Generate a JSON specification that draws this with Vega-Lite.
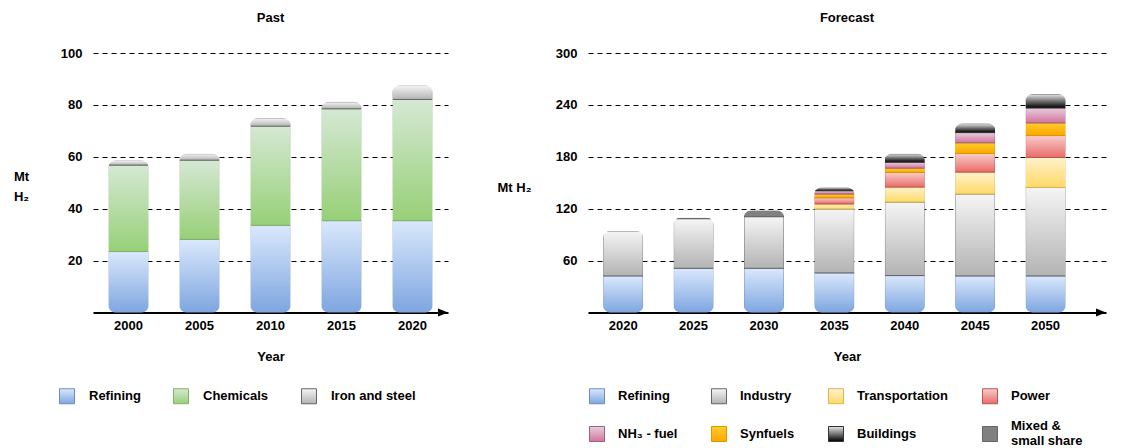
{
  "$schema": "https://vega.github.io/schema/vega-lite/v6.json",
  "padding": {"left": 13, "top": 12, "right": 5, "bottom": 0},
  "spacing": 49,
  "config": {
    "font": "Liberation Sans",
    "view": {"stroke": null},
    "title": {"fontSize": 13, "fontWeight": "bold", "color": "#000", "frame": "group", "baseline": "middle", "offset": 22},
    "axis": {"labelFontSize": 13, "labelFontWeight": "bold", "labelColor": "#000", "titleFontSize": 13, "titleFontWeight": "bold", "titleColor": "#000", "ticks": false},
    "axisY": {"domain": false, "grid": true, "gridColor": "#000", "gridDash": [5, 4], "gridWidth": 1, "labelPadding": 11},
    "axisX": {"domain": true, "domainColor": "#000", "domainWidth": 2, "grid": false, "labelAngle": 0, "labelPadding": 7, "titlePadding": 18},
    "legend": {"labelFontSize": 13, "labelFontWeight": "bold", "labelColor": "#000", "symbolType": "square", "symbolSize": 225, "symbolStrokeWidth": 1, "padding": 0, "labelOffset": 14, "columnPadding": 30, "rowPadding": 14, "labelLimit": 300, "labelLineHeight": 18}
  },
  "resolve": {"scale": {"color": "independent", "stroke": "independent"}, "legend": {"color": "independent", "stroke": "independent"}},
  "hconcat": [
    {
      "title": "Past",
      "width": 355,
      "height": 259.5,
      "data": {"values": [
        {"year": "2000", "sector": "Refining", "value": 23.5},
        {"year": "2000", "sector": "Chemicals", "value": 33.3},
        {"year": "2000", "sector": "Iron and steel", "value": 1.8},
        {"year": "2005", "sector": "Refining", "value": 28.2},
        {"year": "2005", "sector": "Chemicals", "value": 30.5},
        {"year": "2005", "sector": "Iron and steel", "value": 2.5},
        {"year": "2010", "sector": "Refining", "value": 33.6},
        {"year": "2010", "sector": "Chemicals", "value": 38.2},
        {"year": "2010", "sector": "Iron and steel", "value": 3.1},
        {"year": "2015", "sector": "Refining", "value": 35.4},
        {"year": "2015", "sector": "Chemicals", "value": 43.1},
        {"year": "2015", "sector": "Iron and steel", "value": 2.7},
        {"year": "2020", "sector": "Refining", "value": 35.4},
        {"year": "2020", "sector": "Chemicals", "value": 46.7},
        {"year": "2020", "sector": "Iron and steel", "value": 5.4}
      ]},
      "layer": [
        {
          "transform": [{"calculate": "indexof(['Refining','Chemicals','Iron and steel'], datum.sector)", "as": "k"}],
          "mark": {"type": "bar", "cornerRadius": 7, "strokeWidth": 1},
          "encoding": {
            "x": {"field": "year", "type": "ordinal", "title": "Year", "scale": {"paddingInner": 0.437, "paddingOuter": 0.2185}},
            "y": {"field": "value", "type": "quantitative", "stack": "zero", "scale": {"domain": [0, 100], "nice": false},
                  "axis": {"values": [20, 40, 60, 80, 100], "title": ["Mt", "H₂"], "titleAngle": 0, "titleAlign": "center", "titleBaseline": "middle", "titleLineHeight": 20, "titleX": -72, "titleY": 123}},
            "color": {"field": "sector", "type": "nominal",
              "scale": {"domain": ["Refining", "Chemicals", "Iron and steel"], "range": [
                {"expr": "{gradient: 'linear', x1: 0, y1: 0, x2: 0, y2: 1, stops: [{offset: 0, color: '#dae8fc'}, {offset: 1, color: '#7ea6e0'}]}"},
                {"expr": "{gradient: 'linear', x1: 0, y1: 0, x2: 0, y2: 1, stops: [{offset: 0, color: '#d5e8d4'}, {offset: 1, color: '#97d077'}]}"},
                {"expr": "{gradient: 'linear', x1: 0, y1: 0, x2: 0, y2: 1, stops: [{offset: 0, color: '#f5f5f5'}, {offset: 1, color: '#b3b3b3'}]}"}
              ]},
              "legend": {"orient": "none", "legendX": -34, "legendY": 335, "direction": "horizontal", "title": null}},
            "stroke": {"field": "sector", "type": "nominal",
              "scale": {"domain": ["Refining", "Chemicals", "Iron and steel"], "range": ["#6c8ebf", "#82b366", "#666666"]},
              "legend": {"orient": "none", "legendX": -34, "legendY": 335, "direction": "horizontal", "title": null}},
            "order": {"field": "k", "type": "quantitative"}
          }
        },
        {
          "data": {"values": [{}]},
          "mark": {"type": "point", "shape": "M -2 -0.8 L 0 0 L -2 0.8 Z", "filled": true, "color": "#000", "size": 100, "opacity": 1},
          "encoding": {
            "x": {"datum": 1, "type": "quantitative", "scale": {"domain": [0, 1]}, "axis": null},
            "y": {"datum": 0, "type": "quantitative"}
          }
        }
      ],
      "resolve": {"scale": {"x": "independent"}}
    },
    {
      "title": "Forecast",
      "width": 518,
      "height": 259.5,
      "data": {"values": [
        {"year": "2020", "sector": "Refining", "value": 42.3},
        {"year": "2020", "sector": "Industry", "value": 52.0},
        {"year": "2025", "sector": "Refining", "value": 51.1},
        {"year": "2025", "sector": "Industry", "value": 57.4},
        {"year": "2025", "sector": "Mixed & small share", "value": 1.0},
        {"year": "2030", "sector": "Refining", "value": 51.1},
        {"year": "2030", "sector": "Industry", "value": 59.7},
        {"year": "2030", "sector": "Mixed & small share", "value": 7.2},
        {"year": "2035", "sector": "Refining", "value": 45.8},
        {"year": "2035", "sector": "Industry", "value": 73.9},
        {"year": "2035", "sector": "Transportation", "value": 5.8},
        {"year": "2035", "sector": "Power", "value": 7.2},
        {"year": "2035", "sector": "Synfuels", "value": 4.3},
        {"year": "2035", "sector": "NH₃ - fuel", "value": 3.8},
        {"year": "2035", "sector": "Buildings", "value": 3.8},
        {"year": "2040", "sector": "Refining", "value": 42.7},
        {"year": "2040", "sector": "Industry", "value": 85.0},
        {"year": "2040", "sector": "Transportation", "value": 17.3},
        {"year": "2040", "sector": "Power", "value": 16.9},
        {"year": "2040", "sector": "Synfuels", "value": 5.0},
        {"year": "2040", "sector": "NH₃ - fuel", "value": 6.9},
        {"year": "2040", "sector": "Buildings", "value": 9.7},
        {"year": "2045", "sector": "Refining", "value": 42.3},
        {"year": "2045", "sector": "Industry", "value": 94.7},
        {"year": "2045", "sector": "Transportation", "value": 25.3},
        {"year": "2045", "sector": "Power", "value": 21.5},
        {"year": "2045", "sector": "Synfuels", "value": 12.4},
        {"year": "2045", "sector": "NH₃ - fuel", "value": 11.8},
        {"year": "2045", "sector": "Buildings", "value": 10.4},
        {"year": "2050", "sector": "Refining", "value": 42.3},
        {"year": "2050", "sector": "Industry", "value": 102.3},
        {"year": "2050", "sector": "Transportation", "value": 34.6},
        {"year": "2050", "sector": "Power", "value": 25.4},
        {"year": "2050", "sector": "Synfuels", "value": 14.6},
        {"year": "2050", "sector": "NH₃ - fuel", "value": 17.3},
        {"year": "2050", "sector": "Buildings", "value": 15.8}
      ]},
      "layer": [
        {
          "transform": [{"calculate": "indexof(['Refining','Industry','Transportation','Power','Synfuels','NH₃ - fuel','Buildings','Mixed & small share'], datum.sector)", "as": "k"}],
          "mark": {"type": "bar", "cornerRadius": 7, "strokeWidth": 1},
          "encoding": {
            "x": {"field": "year", "type": "ordinal", "title": "Year", "scale": {"paddingInner": 0.432, "paddingOuter": 0.395, "align": 0.273}},
            "y": {"field": "value", "type": "quantitative", "stack": "zero", "scale": {"domain": [0, 300], "nice": false},
                  "axis": {"values": [60, 120, 180, 240, 300], "title": "Mt H₂", "titleAngle": 0, "titleAlign": "center", "titleBaseline": "middle", "titleX": -74, "titleY": 134}},
            "color": {"field": "sector", "type": "nominal",
              "scale": {"domain": ["Refining", "Industry", "Transportation", "Power", "NH₃ - fuel", "Synfuels", "Buildings", "Mixed & small share"], "range": [
                {"expr": "{gradient: 'linear', x1: 0, y1: 0, x2: 0, y2: 1, stops: [{offset: 0, color: '#dae8fc'}, {offset: 1, color: '#7ea6e0'}]}"},
                {"expr": "{gradient: 'linear', x1: 0, y1: 0, x2: 0, y2: 1, stops: [{offset: 0, color: '#f5f5f5'}, {offset: 1, color: '#b3b3b3'}]}"},
                {"expr": "{gradient: 'linear', x1: 0, y1: 0, x2: 0, y2: 1, stops: [{offset: 0, color: '#fff2cc'}, {offset: 1, color: '#ffd966'}]}"},
                {"expr": "{gradient: 'linear', x1: 0, y1: 0, x2: 0, y2: 1, stops: [{offset: 0, color: '#f8cecc'}, {offset: 1, color: '#ea6b66'}]}"},
                {"expr": "{gradient: 'linear', x1: 0, y1: 0, x2: 0, y2: 1, stops: [{offset: 0, color: '#e6d0de'}, {offset: 1, color: '#d5739d'}]}"},
                {"expr": "{gradient: 'linear', x1: 0, y1: 0, x2: 0, y2: 1, stops: [{offset: 0, color: '#ffcd28'}, {offset: 1, color: '#ffa500'}]}"},
                {"expr": "{gradient: 'linear', x1: 0, y1: 0, x2: 0, y2: 1, stops: [{offset: 0, color: '#e6e6e6'}, {offset: 1, color: '#000000'}]}"},
                "#808080"
              ]},
              "legend": {"orient": "none", "legendX": 1, "legendY": 335, "direction": "horizontal", "columns": 4, "columnPadding": 31, "labelOffset": 13, "title": null,
                         "labelBaseline": {"expr": "datum.value == 'Mixed & small share' ? 'line-bottom' : 'middle'"},
                         "labelExpr": "datum.label == 'Mixed & small share' ? ['Mixed &', 'small share'] : datum.label"}},
            "stroke": {"field": "sector", "type": "nominal",
              "scale": {"domain": ["Refining", "Industry", "Transportation", "Power", "NH₃ - fuel", "Synfuels", "Buildings", "Mixed & small share"], "range": ["#6c8ebf", "#666666", "#d6b656", "#b85450", "#996185", "#d79b00", "#333333", "#666666"]},
              "legend": {"orient": "none", "legendX": 1, "legendY": 335, "direction": "horizontal", "columns": 4, "columnPadding": 31, "labelOffset": 13, "title": null,
                         "labelBaseline": {"expr": "datum.value == 'Mixed & small share' ? 'line-bottom' : 'middle'"},
                         "labelExpr": "datum.label == 'Mixed & small share' ? ['Mixed &', 'small share'] : datum.label"}},
            "order": {"field": "k", "type": "quantitative"}
          }
        },
        {
          "data": {"values": [{}]},
          "mark": {"type": "point", "shape": "M -2 -0.8 L 0 0 L -2 0.8 Z", "filled": true, "color": "#000", "size": 100, "opacity": 1},
          "encoding": {
            "x": {"datum": 1, "type": "quantitative", "scale": {"domain": [0, 1]}, "axis": null},
            "y": {"datum": 0, "type": "quantitative"}
          }
        }
      ],
      "resolve": {"scale": {"x": "independent"}}
    }
  ]
}
